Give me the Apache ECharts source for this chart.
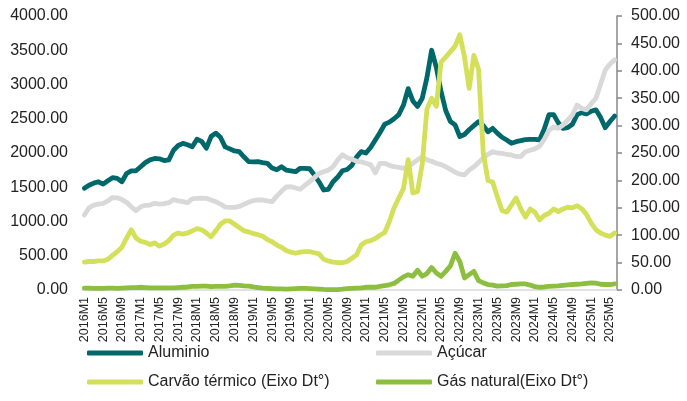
<!DOCTYPE html>
<html>
<head>
<meta charset="utf-8">
<script src="https://cdn.jsdelivr.net/npm/echarts@6/dist/echarts.min.js"></script>
<style>
html,body{margin:0;padding:0;background:#fff;}
#chart{width:687px;height:401px;}
</style>
</head>
<body>
<div id="chart"></div>
<script>
// meses 2016M1 .. 2025M6
var meses=[];
for(var a=2016;a<=2025;a++){
	for(var m=1;m<=12;m++){
		if(a==2025&&m>6) break;
		meses.push(a+'M'+m);
	}
}

// eixo esquerdo
var aluminio=[
	1485,1530,1560,1580,1545,1595,1640,1630,1580,1700,1740,1740,
	1800,1860,1900,1920,1915,1890,1900,2040,2110,2140,2120,2090,
	2200,2170,2070,2240,2290,2230,2090,2060,2030,2020,1945,1875,
	1870,1873,1860,1850,1780,1755,1800,1750,1740,1727,1777,1777,
	1770,1680,1580,1460,1470,1580,1650,1740,1760,1820,1940,2020,
	2000,2080,2190,2300,2420,2450,2500,2560,2700,2940,2760,2680,
	2800,3100,3500,3250,2900,2620,2460,2410,2240,2270,2340,2400,
	2457,2400,2311,2360,2290,2230,2190,2142,2165,2180,2195,2200,
	2200,2190,2350,2560,2560,2440,2360,2370,2420,2560,2590,2570,
	2610,2630,2520,2370,2460,2540
];
var acucar=[
	1095,1200,1240,1255,1265,1300,1350,1345,1320,1280,1215,1160,
	1215,1235,1240,1265,1255,1260,1275,1320,1300,1290,1275,1330,
	1338,1340,1338,1315,1290,1255,1210,1207,1207,1220,1250,1280,
	1305,1314,1314,1300,1290,1370,1440,1505,1508,1490,1470,1530,
	1580,1640,1700,1727,1750,1800,1900,1975,1930,1910,1880,1870,
	1850,1830,1710,1850,1850,1820,1800,1790,1777,1800,1850,1900,
	1946,1900,1880,1850,1830,1800,1760,1720,1690,1680,1750,1800,
	1860,1930,1980,2019,2000,1996,1980,1971,1950,1946,2019,2040,
	2060,2100,2200,2330,2380,2360,2409,2480,2555,2700,2650,2630,
	2720,2800,3000,3210,3300,3360
];
// eixo direito
var carvao=[
	51,52,52,53,53,56,63,70,78,95,110,95,
	89,87,83,86,80,84,90,100,104,102,104,108,
	112,110,104,97,108,120,126,126,120,114,108,106,
	103,101,98,92,88,82,78,72,69,67,69,70,
	70,68,66,56,53,51,50,50,52,58,64,82,
	88,90,94,100,105,125,150,168,185,238,177,180,
	230,330,350,335,416,425,435,445,466,425,368,428,
	403,250,200,197,170,145,142,155,168,148,133,148,
	142,128,136,140,148,143,148,151,150,154,148,138,
	122,110,104,100,98,104
];
var gas=[
	3.5,3.5,3,3,3,3.5,3.5,3,3.5,4,4.5,4.5,
	5,4.5,4,4,4,4,4,4,4.5,5,5.5,6.5,
	6.5,7,7,6,6.5,6.5,6.5,7.5,9,8.5,7.5,7,
	5.5,4.5,3.5,3,2.5,2,2,1.5,2,2.5,3,3,
	2.5,2,1.5,1,0.8,0.8,0.8,1.5,2.5,3,3.5,4,
	5,5,5,6.5,8,9.5,12,18,24,28,25,36,
	25,30,41,31,25,34,44,67,52,22,28,34,
	17,13,10,9,7,7.5,8,10,10.5,11,11,9,
	6,5,5.5,6.5,7,7.5,8.5,9.5,10,10.5,11,12,
	13,12.5,10.5,10,10,11
];

var nomes=['Aluminio','Açúcar','Carvão térmico (Eixo Dt°)','Gás natural(Eixo Dt°)'];
var cores=['#00686A','#D9D9D9','#D4E05A','#8CBF3F'];
var fonte='"Liberation Sans", Arial, sans-serif';

function fmt(v){
	return v.toFixed(2);
}

function legenda(nome,x,y){
	return {
		data:[nome],
		left:x,
		top:y,
		padding:0,
		icon:'roundRect',
		itemWidth:56,
		itemHeight:5,
		selectedMode:false,
		textStyle:{fontSize:16,color:'#222',fontFamily:fonte}
	};
}

function serie(i,dados,eixo){
	return {
		name:nomes[i],
		type:'line',
		yAxisIndex:eixo,
		data:dados,
		symbol:'none',
		color:cores[i],
		lineStyle:{width:4.8,color:cores[i],cap:'round',join:'round'},
		emphasis:{disabled:true}
	};
}

var option={
	animation:false,
	grid:{left:82,right:70,top:16,bottom:111},
	legend:[
		legenda(nomes[0],87,345),
		legenda(nomes[1],376,345),
		legenda(nomes[2],87,374),
		legenda(nomes[3],376,374)
	],
	xAxis:{
		type:'category',
		data:meses,
		boundaryGap:true,
		axisLine:{lineStyle:{color:'#D9D9D9',width:1.5}},
		axisTick:{show:false},
		axisLabel:{interval:3,rotate:90,margin:7,fontSize:12.5,color:'#222',fontFamily:fonte}
	},
	yAxis:[
		{
			type:'value',min:0,max:4000,interval:500,
			splitLine:{show:false},
			axisLine:{show:false},
			axisTick:{show:false},
			axisLabel:{formatter:fmt,margin:14,fontSize:16,color:'#222',fontFamily:fonte}
		},
		{
			type:'value',min:0,max:500,interval:50,position:'right',
			splitLine:{show:false},
			axisLine:{show:true,lineStyle:{color:'#888',width:1.5}},
			axisTick:{show:true,length:5,lineStyle:{color:'#888',width:1.5}},
			axisLabel:{formatter:fmt,margin:14,fontSize:16,color:'#222',fontFamily:fonte}
		}
	],
	series:[
		serie(0,aluminio,0),
		serie(1,acucar,0),
		serie(2,carvao,1),
		serie(3,gas,1)
	]
};

var myChart=echarts.init(document.getElementById('chart'),null,{renderer:'canvas'});
myChart.setOption(option);
</script>
</body>
</html>
